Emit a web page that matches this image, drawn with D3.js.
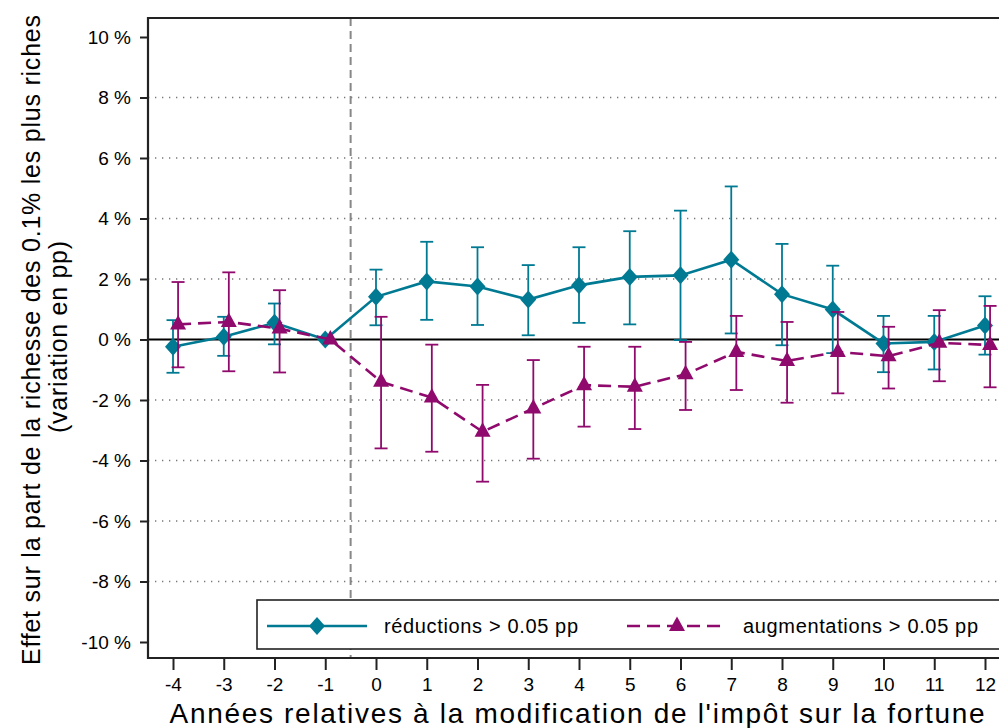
<!DOCTYPE html>
<html>
<head>
<meta charset="utf-8">
<script src="https://cdn.jsdelivr.net/npm/d3@7"></script>
<style>
    body { margin: 0; background: #fff; }
    svg { display: block; font-family: 'Liberation Sans', Arial, sans-serif; }
</style>
</head>
<body>
<script>
// years relative to the wealth tax change
const years = [-4, -3, -2, -1, 0, 1, 2, 3, 4, 5, 6, 7, 8, 9, 10, 11, 12];

// reductions > 0.05 pp (point, upper, lower)
const redValues = [-0.24, 0.09, 0.55, 0, 1.41, 1.92, 1.75, 1.32, 1.79, 2.07, 2.12, 2.64, 1.50, 0.99, -0.13, -0.08, 0.46];
const redUpper = [0.64, 0.75, 1.19, null, 2.31, 3.23, 3.05, 2.46, 3.05, 3.58, 4.26, 5.06, 3.16, 2.44, 0.78, 0.78, 1.43];
const redLower = [-1.10, -0.54, -0.16, null, 0.47, 0.65, 0.48, 0.14, 0.55, 0.50, -0.02, 0.20, -0.19, -0.45, -1.08, -0.99, -0.50];

// increases > 0.05 pp (point, upper, lower)
const augValues = [0.50, 0.58, 0.36, 0, -1.40, -1.92, -3.05, -2.28, -1.51, -1.56, -1.15, -0.41, -0.71, -0.41, -0.55, -0.11, -0.18];
const augUpper = [1.90, 2.22, 1.63, null, 0.75, -0.17, -1.50, -0.68, -0.24, -0.24, -0.08, 0.78, 0.58, 0.91, 0.42, 0.97, 1.11];
const augLower = [-0.92, -1.05, -1.09, null, -3.60, -3.71, -4.70, -3.94, -2.88, -2.96, -2.33, -1.67, -2.09, -1.78, -1.62, -1.38, -1.58];

const yTicks = [-10, -8, -6, -4, -2, 0, 2, 4, 6, 8, 10];

const width = 999;
const height = 728;

const plotLeft = 148;
const plotRight = 1006;
const plotTop = 18;
const plotBottom = 658;

const teal = '#007a93';
const magenta = '#8f0a6c';
const font = "'Liberation Sans', Arial, sans-serif";

const svg = d3.select('body').append('svg')
    .attr('width', width)
    .attr('height', height);

const x = d3.scaleLinear().domain([-4, 12]).range([173, 985]);
const y = d3.scaleLinear().domain([-10, 10]).range([642, 37]);

// dotted gridlines
svg.selectAll('line.grid')
    .data(yTicks.filter(d => Math.abs(d) !== 10 && d !== 0))
    .enter()
    .append('line')
    .attr('class', 'grid')
    .attr('x1', plotLeft)
    .attr('x2', plotRight)
    .attr('y1', d => y(d))
    .attr('y2', d => y(d))
    .attr('stroke', '#777')
    .attr('stroke-width', 1.3)
    .attr('stroke-dasharray', '1.3 5.7');

// zero line
svg.append('line')
    .attr('x1', plotLeft)
    .attr('x2', plotRight)
    .attr('y1', y(0))
    .attr('y2', y(0))
    .attr('stroke', '#000')
    .attr('stroke-width', 2);

// vertical dashed line at the reform
svg.append('line')
    .attr('x1', x(-0.5))
    .attr('x2', x(-0.5))
    .attr('y1', plotTop)
    .attr('y2', plotBottom)
    .attr('stroke', '#888')
    .attr('stroke-width', 2)
    .attr('stroke-dasharray', '8 5');

// frame
svg.append('path')
    .attr('d', `M${plotRight},${plotTop}H${plotLeft}V${plotBottom}H${plotRight}`)
    .attr('fill', 'none')
    .attr('stroke', '#222')
    .attr('stroke-width', 2.2);

// y-axis
const yAxis = d3.axisLeft(y)
    .tickValues(yTicks)
    .tickSize(8)
    .tickPadding(9)
    .tickFormat(d => `${d} %`);

svg.append('g')
    .attr('transform', `translate(${plotLeft}, 0)`)
    .call(yAxis)
    .call(g => g.select('.domain').remove())
    .call(g => g.selectAll('line').attr('stroke', '#222').attr('stroke-width', 2))
    .call(g => g.selectAll('text').attr('font-size', 19).attr('fill', '#000').attr('font-family', font));

// x-axis
const xAxis = d3.axisBottom(x)
    .tickValues(years)
    .tickSize(12)
    .tickPadding(8)
    .tickFormat(d => String(d));

svg.append('g')
    .attr('transform', `translate(0, ${plotBottom})`)
    .call(xAxis)
    .call(g => g.select('.domain').remove())
    .call(g => g.selectAll('line').attr('stroke', '#222').attr('stroke-width', 2))
    .call(g => g.selectAll('text').attr('font-size', 19).attr('fill', '#000').attr('font-family', font));

// axis titles
svg.append('text')
    .attr('x', 577)
    .attr('y', 723)
    .attr('text-anchor', 'middle')
    .attr('font-size', 28)
    .attr('textLength', 815)
    .attr('lengthAdjust', 'spacing')
    .text("Années relatives à la modification de l'impôt sur la fortune");

svg.append('text')
    .attr('transform', 'translate(40, 340) rotate(-90)')
    .attr('text-anchor', 'middle')
    .attr('font-size', 25)
    .attr('textLength', 650)
    .attr('lengthAdjust', 'spacing')
    .text('Effet sur la part de la richesse des 0.1% les plus riches');

svg.append('text')
    .attr('transform', 'translate(67, 337) rotate(-90)')
    .attr('text-anchor', 'middle')
    .attr('font-size', 25)
    .attr('textLength', 192)
    .attr('lengthAdjust', 'spacing')
    .text('(variation en pp)');

// series
const series = [
    { name: 'red', values: redValues, upper: redUpper, lower: redLower, color: teal, offset: 0, dash: null, symbol: 'diamond' },
    { name: 'aug', values: augValues, upper: augUpper, lower: augLower, color: magenta, offset: 0.1, dash: '13 7', symbol: 'triangle' }
];

const diamond = 'M0,-9L8,0L0,9L-8,0Z';
const triangle = 'M0,-9.5L8,5L-8,5Z';

series.forEach(s =>
{
    const pts = years.map((yr, i) => ({ yr: yr + s.offset, v: s.values[i], hi: s.upper[i], lo: s.lower[i] }));
    const g = svg.append('g').attr('class', `series-${s.name}`);

    // error bars
    const bars = pts.filter(p => p.hi !== null);
    g.selectAll('line.err')
        .data(bars)
        .enter()
        .append('line')
        .attr('class', 'err')
        .attr('x1', p => x(p.yr))
        .attr('x2', p => x(p.yr))
        .attr('y1', p => y(p.hi))
        .attr('y2', p => y(p.lo))
        .attr('stroke', s.color)
        .attr('stroke-width', 1.8);

    ['hi', 'lo'].forEach(k =>
    {
        g.selectAll(`line.cap-${k}`)
            .data(bars)
            .enter()
            .append('line')
            .attr('class', `cap-${k}`)
            .attr('x1', p => x(p.yr) - 6.5)
            .attr('x2', p => x(p.yr) + 6.5)
            .attr('y1', p => y(p[k]))
            .attr('y2', p => y(p[k]))
            .attr('stroke', s.color)
            .attr('stroke-width', 1.8);
    });

    // connecting line
    const line = d3.line().x(p => x(p.yr)).y(p => y(p.v));
    g.append('path')
        .datum(pts)
        .attr('d', line)
        .attr('fill', 'none')
        .attr('stroke', s.color)
        .attr('stroke-width', 2.6)
        .attr('stroke-dasharray', s.dash);

    // markers
    g.selectAll('path.marker')
        .data(pts)
        .enter()
        .append('path')
        .attr('class', 'marker')
        .attr('d', s.symbol === 'diamond' ? diamond : triangle)
        .attr('transform', p => `translate(${x(p.yr)}, ${y(p.v)})`)
        .attr('fill', s.color);
});

// legend
const legend = svg.append('g');
legend.append('rect')
    .attr('x', 257)
    .attr('y', 600)
    .attr('width', 760)
    .attr('height', 49)
    .attr('fill', '#fff')
    .attr('stroke', '#222')
    .attr('stroke-width', 1.6);

const legendItems = [
    { label: 'réductions > 0.05 pp', color: teal, dash: null, symbol: diamond, x0: 267, tx: 384, tw: 194 },
    { label: 'augmentations > 0.05 pp', color: magenta, dash: '13 7', symbol: triangle, x0: 627, tx: 743, tw: 235 }
];

legendItems.forEach(item =>
{
    legend.append('line')
        .attr('x1', item.x0)
        .attr('x2', item.x0 + 100)
        .attr('y1', 626)
        .attr('y2', 626)
        .attr('stroke', item.color)
        .attr('stroke-width', 2.6)
        .attr('stroke-dasharray', item.dash);

    legend.append('path')
        .attr('d', item.symbol)
        .attr('transform', `translate(${item.x0 + 50}, 626)`)
        .attr('fill', item.color);

    legend.append('text')
        .attr('x', item.tx)
        .attr('y', 633)
        .attr('font-size', 20)
        .attr('textLength', item.tw)
        .attr('lengthAdjust', 'spacing')
        .text(item.label);
});
</script>
</body>
</html>
